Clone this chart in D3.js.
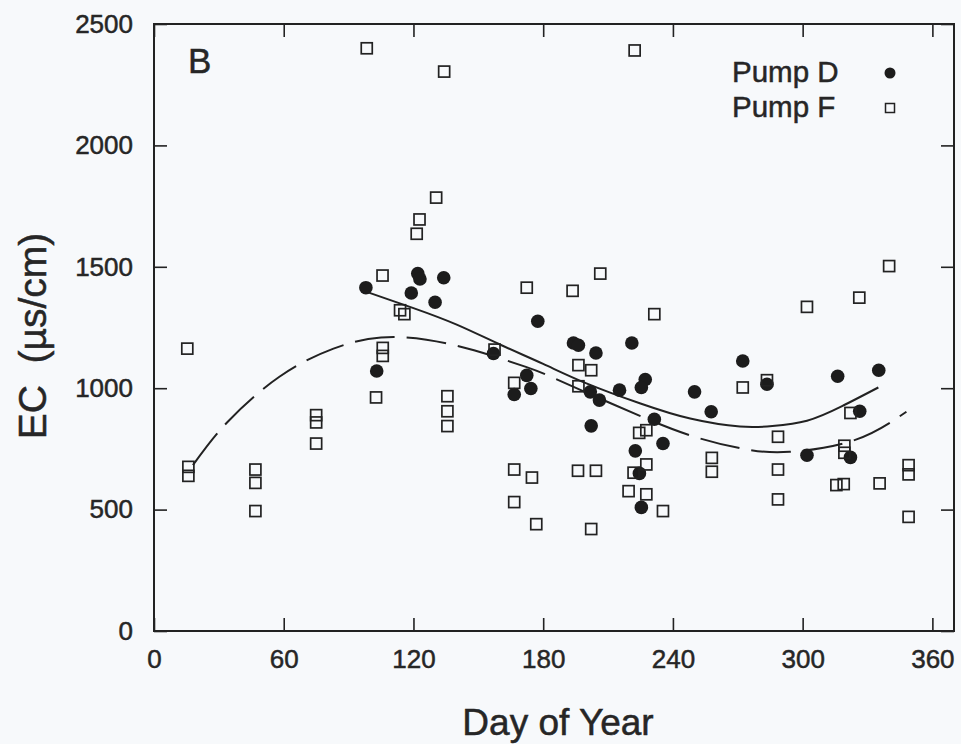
<!DOCTYPE html>
<html>
<head>
<meta charset="utf-8">
<script src="https://cdn.jsdelivr.net/npm/d3@7"></script>
<style>
  html, body { margin: 0; padding: 0; background: #f7f9fb; }
  svg { display: block; }
  text { font-family: "Liberation Sans", Arial, sans-serif; fill: #262626; stroke: #262626; stroke-width: 0.5px; }
</style>
</head>
<body>
<div id="chart"></div>
<script>
// ---- Data ----
const pumpDDay = [98, 103, 119, 122, 123, 130, 134, 157, 166.6, 172.4, 174.3, 177.5, 194, 196.3, 204.4, 221,
  201.8, 206, 215.3, 227.2, 225.4, 202.2, 231.4, 235.4, 222.6, 224.5, 225.4, 250, 257.7, 272.3, 283.5,
  302, 316.2, 335.2, 326.4, 322.1];
const pumpDEC = [1414, 1071, 1392, 1472, 1450, 1354, 1455, 1143, 974, 1053, 999, 1276, 1186, 1177, 1145, 1186,
  985, 951, 992, 1036, 1003, 845, 872, 772, 742, 649, 509, 985, 903, 1112, 1016,
  724, 1049, 1074, 905, 715];

const pumpFDay = [15.4, 15.9, 15.9, 46.9, 46.9, 46.9, 75, 75, 75, 98.4, 102.7, 105.7, 105.8, 105.8, 113.8, 115.8,
  121.5, 122.8, 130.5, 134.2, 135.7, 135.7, 135.7, 157.5, 166.6, 166.6, 166.6, 172.4, 174.8, 176.8,
  193.6, 196.3, 202.2, 196.3, 196.1, 204.4, 202.2, 206.4, 219.5, 221.8, 222.3, 224.4, 227.7, 227.7, 227.7,
  231.4, 235.4, 258, 258, 272.3, 283.5, 288.6, 288.6, 288.6, 302, 315.6, 319, 319.3, 319.3, 322.1,
  326.2, 335.6, 340, 349, 349, 349];
const pumpFEC = [1163, 676, 639, 665, 610, 494, 889, 859, 772, 2400, 962, 1464, 1166, 1133, 1321, 1305,
  1636, 1695, 1785, 2304, 967, 905, 844, 1159, 1022, 665, 531, 1414, 632, 440,
  1401, 1095, 1074, 1008, 660, 660, 420, 1472, 576, 652, 2391, 816, 827, 686, 563,
  1305, 494, 713, 656, 1003, 1033, 800, 665, 542, 1335, 601, 605, 763, 734, 898,
  1373, 608, 1503, 683, 645, 470];

// fitted trend curves
const fitDDay = [98, 120, 140, 160, 180, 200, 225, 248, 271, 286, 302, 318, 335];
const fitDEC  = [1398, 1330, 1262, 1180, 1100, 1020, 937, 875, 842, 844, 866, 925, 1003];
const fitFDay = [18, 34, 58, 83, 105, 126, 148, 172, 182, 202, 225, 250, 274, 294, 324, 348];
const fitFEC  = [683, 861, 1047, 1163, 1209, 1200, 1156, 1088, 1053, 974, 885, 800, 748, 738, 786, 903];

const xTicks = [0, 60, 120, 180, 240, 300, 360];
const yTicks = [0, 500, 1000, 1500, 2000, 2500];
const legendLabels = ["Pump D", "Pump F"];
const panelLabel = "B";
const xTitle = "Day of Year";
const yTitle = "EC  (\u00B5s/cm)";

// ---- Layout ----
const W = 961, H = 744;
const m = { left: 154, top: 24, right: 7, bottom: 113 };
const iw = W - m.left - m.right, ih = H - m.top - m.bottom;
const ink = "#222";

const svg = d3.select("#chart").append("svg").attr("width", W).attr("height", H);
svg.append("rect").attr("width", W).attr("height", H).attr("fill", "#f7f9fb");
const g = svg.append("g").attr("transform", `translate(${m.left},${m.top})`);

const x = d3.scaleLinear().domain([0, 370]).range([0, iw]);
const y = d3.scaleLinear().domain([0, 2500]).range([ih, 0]);

// axes with inward ticks on all four sides
const tl = 13;
const styleAxis = sel => {
  sel.select(".domain").remove();
  sel.selectAll(".tick line").attr("stroke", ink).attr("stroke-width", 1.6);
};
const labelStyle = sel => sel.selectAll("text").attr("font-size", 26).attr("fill", "#262626")
  .attr("font-family", "Liberation Sans, Arial, sans-serif");
const axB = g.append("g").attr("transform", `translate(0,${ih})`)
  .call(d3.axisBottom(x).tickValues(xTicks).tickSize(-tl).tickPadding(19).tickFormat(d3.format("d")));
styleAxis(axB); labelStyle(axB);
const axT = g.append("g")
  .call(d3.axisTop(x).tickValues(xTicks).tickSize(-tl).tickFormat(""));
styleAxis(axT);
const axL = g.append("g")
  .call(d3.axisLeft(y).tickValues(yTicks).tickSize(-tl).tickPadding(21).tickFormat(d3.format("d")));
styleAxis(axL); labelStyle(axL);
const axR = g.append("g").attr("transform", `translate(${iw},0)`)
  .call(d3.axisRight(y).tickValues(yTicks).tickSize(-tl).tickFormat(""));
styleAxis(axR);

// frame
g.append("rect").attr("width", iw).attr("height", ih)
  .attr("fill", "none").attr("stroke", ink).attr("stroke-width", 2);

// curves
const line = d3.line().x(d => x(d[0])).y(d => y(d[1])).curve(d3.curveNatural);
g.append("path").datum(fitDDay.map((d, i) => [d, fitDEC[i]]))
  .attr("d", line).attr("fill", "none").attr("stroke", ink).attr("stroke-width", 2);
g.append("path").datum(fitFDay.map((d, i) => [d, fitFEC[i]]))
  .attr("d", line).attr("fill", "none").attr("stroke", ink).attr("stroke-width", 2)
  .attr("stroke-dasharray", "40,12");

// Pump D circles
g.append("g").selectAll("circle").data(pumpDDay.map((d, i) => [d, pumpDEC[i]]))
  .join("circle").attr("cx", d => x(d[0])).attr("cy", d => y(d[1])).attr("r", 6.8)
  .attr("fill", "#1c1c1c");

// Pump F squares
const s = 11;
g.append("g").selectAll("rect").data(pumpFDay.map((d, i) => [d, pumpFEC[i]]))
  .join("rect").attr("x", d => x(d[0]) - s / 2).attr("y", d => y(d[1]) - s / 2)
  .attr("width", s).attr("height", s).attr("fill", "none").attr("stroke", ink).attr("stroke-width", 1.7);

// panel label
svg.append("text").attr("x", 188).attr("y", 73).attr("font-size", 35).text(panelLabel);

// legend
svg.append("text").attr("x", 732).attr("y", 82).attr("font-size", 29.5).text(legendLabels[0]);
svg.append("text").attr("x", 732).attr("y", 117).attr("font-size", 29.5).text(legendLabels[1]);
svg.append("circle").attr("cx", 890).attr("cy", 73).attr("r", 5.5).attr("fill", "#1c1c1c");
svg.append("rect").attr("x", 890 - 4.5).attr("y", 108 - 4.5).attr("width", 9).attr("height", 9)
  .attr("fill", "none").attr("stroke", ink).attr("stroke-width", 1.5);

// axis titles
svg.append("text").attr("x", m.left + iw / 2 + 4).attr("y", 735).attr("text-anchor", "middle")
  .attr("font-size", 37).text(xTitle);
svg.append("text").attr("transform", `translate(46,336) rotate(-90)`).attr("text-anchor", "middle")
  .style("white-space", "pre").attr("font-size", 39).text(yTitle);
</script>
</body>
</html>
